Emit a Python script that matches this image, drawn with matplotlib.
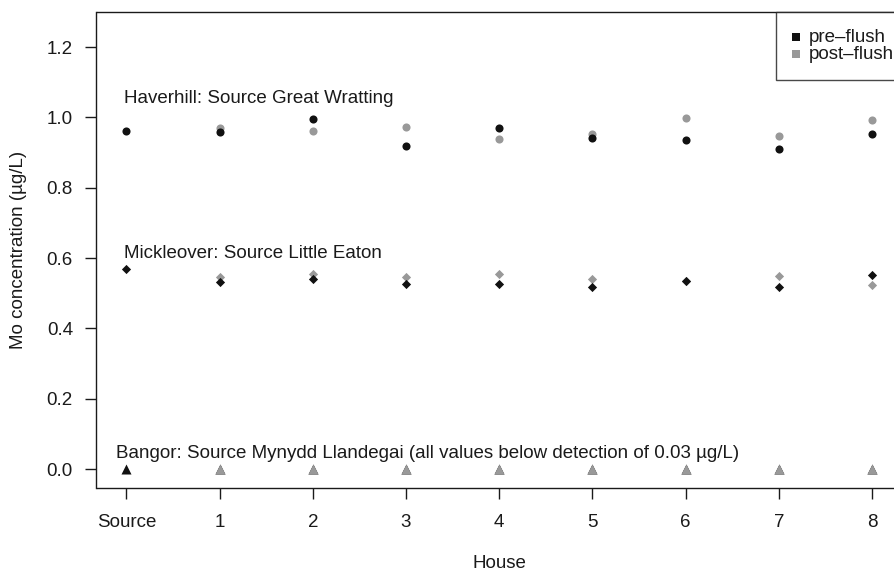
import numpy as np
import matplotlib
matplotlib.use("Agg")
import matplotlib.pyplot as plt

plt.rcParams['font.family'] = ['Liberation Sans', 'DejaVu Sans']

houses = ["Source", "1", "2", "3", "4", "5", "6", "7", "8"]

haverhill_pre = [0.962, 0.960, 0.996, 0.919, 0.970, 0.942, 0.936, 0.910, 0.953]
haverhill_post = [None, 0.970, 0.962, 0.973, 0.939, 0.953, 0.999, 0.947, 0.993]

mickleover_pre = [0.569, 0.531, 0.540, 0.527, 0.527, 0.519, 0.534, 0.519, 0.552]
mickleover_post = [None, 0.547, 0.555, 0.547, 0.555, 0.541, 0.536, 0.548, 0.523]

bangor_pre = [0, 0, 0, 0, 0, 0, 0, 0, 0]
bangor_post = [None, 0, 0, 0, 0, 0, 0, 0, 0]

black = "#111111"
grey = "#999999"
ink = "#1a1a1a"
fs = 13.5

fig = plt.figure(figsize=(8.95, 5.73), dpi=100)
# plot region runs a little past the right edge, like the original
ax = fig.add_axes([96.5/895, 85/573, 805.5/895, 476/573])

x = np.arange(len(houses))

def split(vals):
    xs = [i for i, v in enumerate(vals) if v is not None]
    ys = [v for v in vals if v is not None]
    return xs, ys

ax.scatter(x, haverhill_pre, s=34, color=black, marker="o", linewidths=0, zorder=3)
xp, yp = split(haverhill_post)
ax.scatter(xp, yp, s=34, color=grey, marker="o", linewidths=0, zorder=2)

ax.scatter(x, mickleover_pre, s=22, color=black, marker="D", linewidths=0, zorder=3)
xp, yp = split(mickleover_post)
ax.scatter(xp, yp, s=22, color=grey, marker="D", linewidths=0, zorder=2)

ax.scatter(x, bangor_pre, s=52, color=black, marker="^", linewidths=0, zorder=2)
xp, yp = split(bangor_post)
ax.scatter(xp, yp, s=52, color=grey, marker="^", linewidths=0, zorder=3)

ax.text(-0.02, 1.055, "Haverhill: Source Great Wratting", fontsize=fs, va="center", ha="left", color=ink)
ax.text(-0.02, 0.614, "Mickleover: Source Little Eaton", fontsize=fs, va="center", ha="left", color=ink)
ax.text(-0.11, 0.045, "Bangor: Source Mynydd Llandegai (all values below detection of 0.03 µg/L)",
        fontsize=fs, va="center", ha="left", color=ink)

ax.set_xlim(-0.32, 8.32)
ax.set_ylim(-0.054, 1.30)
ax.set_xticks(x)
ax.set_xticklabels(houses)
ax.set_yticks([0.0, 0.2, 0.4, 0.6, 0.8, 1.0, 1.2])
ax.set_yticklabels(["0.0", "0.2", "0.4", "0.6", "0.8", "1.0", "1.2"])
ax.tick_params(direction="out", length=8, width=1.0, labelsize=fs, colors=ink)
ax.tick_params(axis="x", pad=11)
ax.tick_params(axis="y", pad=9)
for s in ax.spines.values():
    s.set_linewidth(1.0)
    s.set_color(ink)

ax.set_xlabel("House", fontsize=fs, color=ink)
ax.set_ylabel("Mo concentration (µg/L)", fontsize=fs, color=ink)
ax.xaxis.set_label_coords(499/895, 1 - 555/573, transform=fig.transFigure)
ax.yaxis.set_label_coords(27/895, 1 - 250/573, transform=fig.transFigure)

h1 = ax.scatter([], [], s=34, marker="s", color=black, linewidths=0)
h2 = ax.scatter([], [], s=34, marker="s", color=grey, linewidths=0)
leg = ax.legend([h1, h2], ["pre\u2013flush", "post\u2013flush"], loc="upper left",
                bbox_to_anchor=(776/895, 1 - 12/573), bbox_transform=fig.transFigure,
                fontsize=fs, frameon=True, fancybox=False, borderaxespad=0,
                handletextpad=0.55, handlelength=0.3, labelspacing=0.0, borderpad=0.9)
leg.get_frame().set_edgecolor(ink)
leg.get_frame().set_linewidth(1.0)
for t in leg.get_texts():
    t.set_color(ink)

fig.savefig("out.png", dpi=100)
